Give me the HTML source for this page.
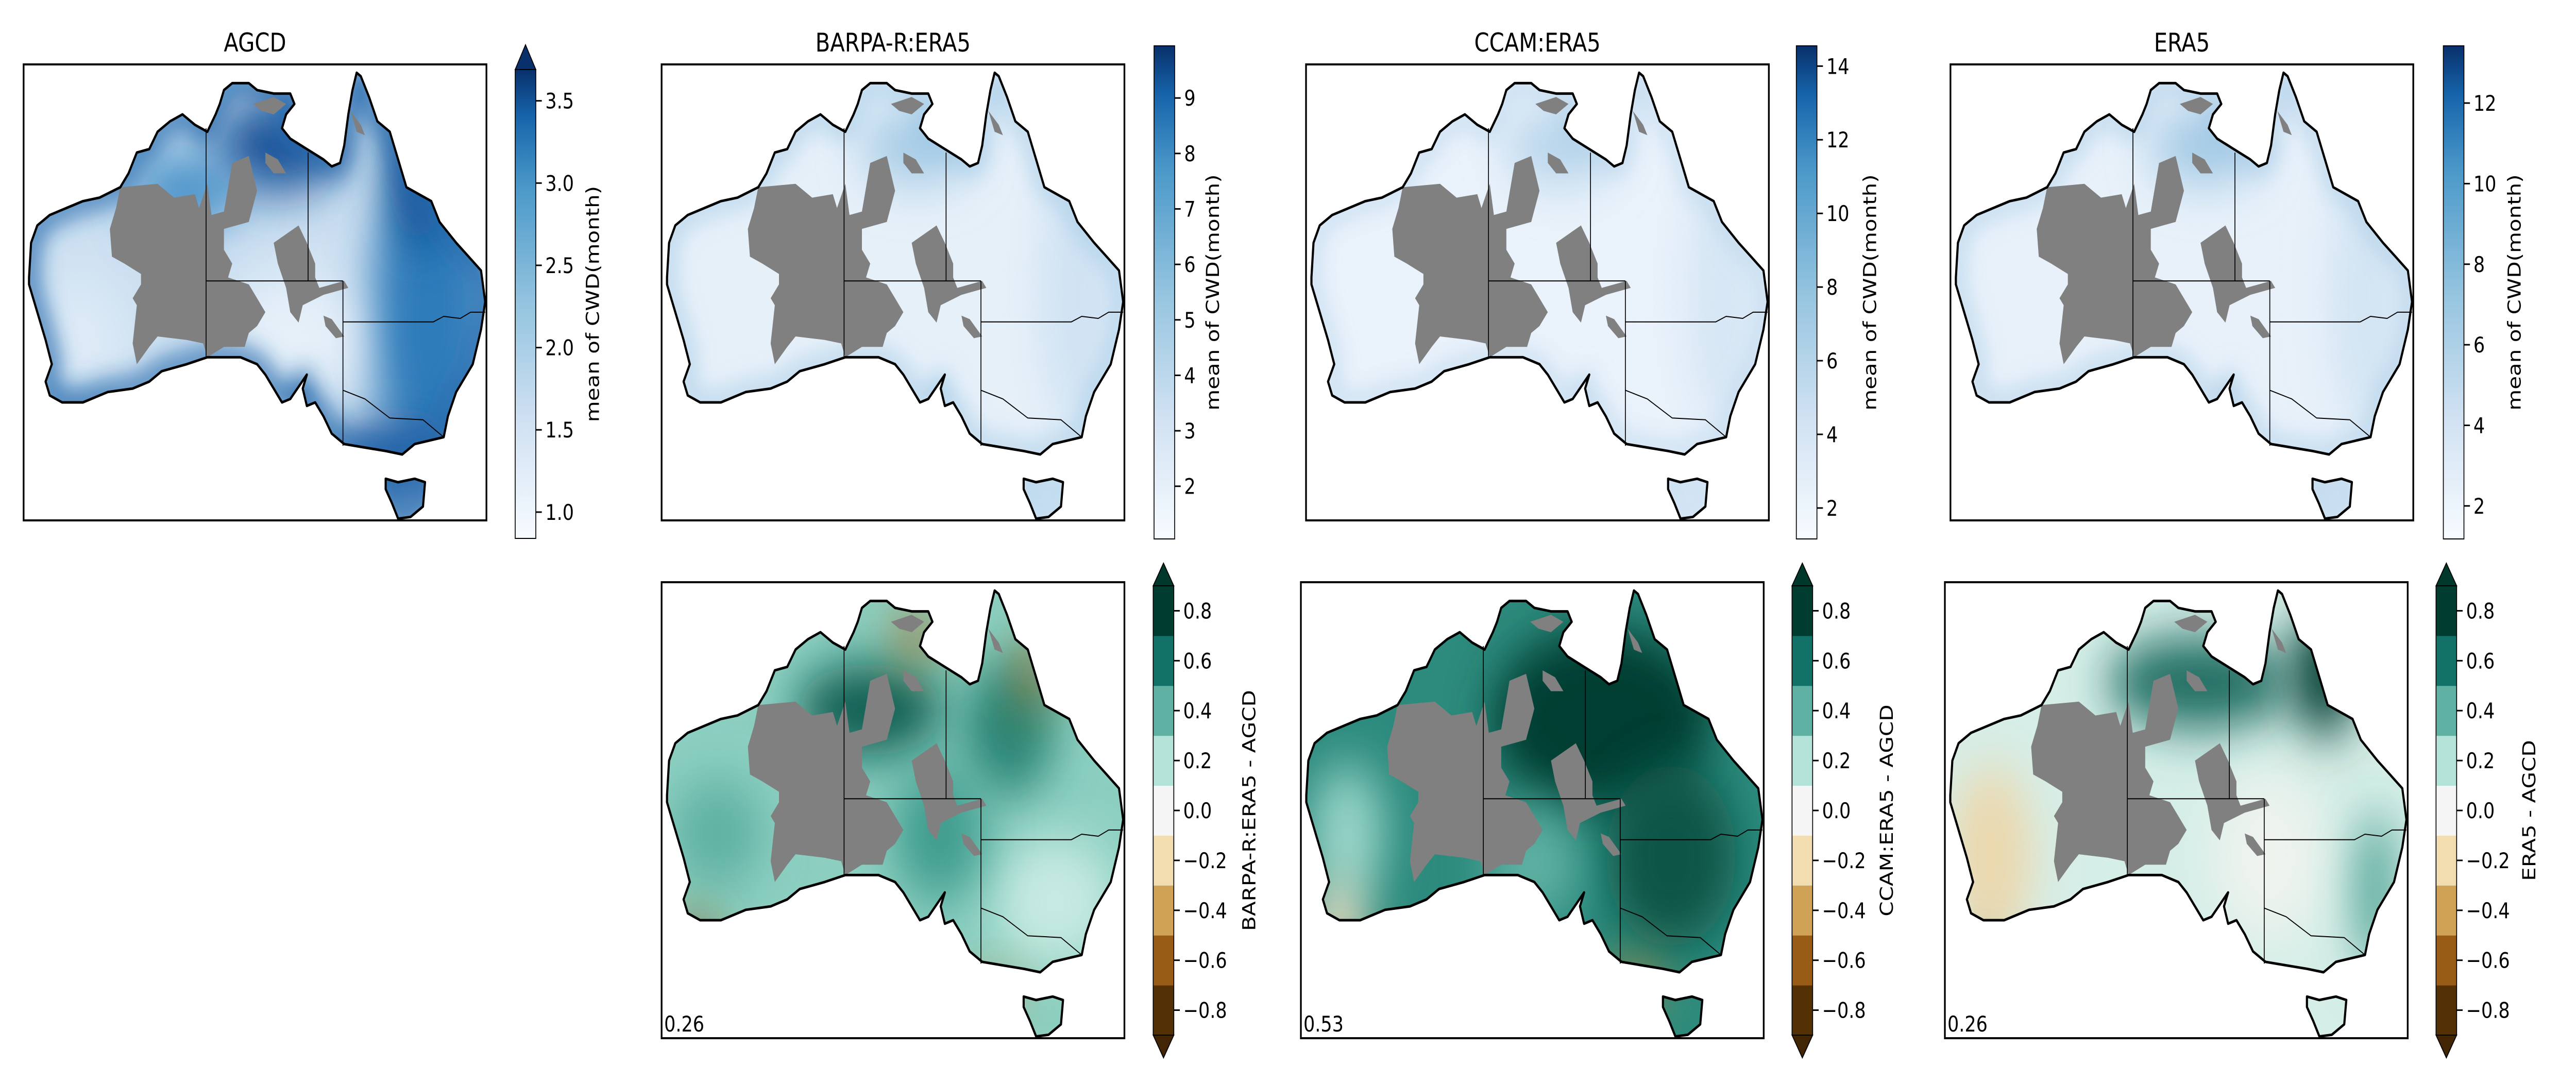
<!DOCTYPE html>
<html><head><meta charset="utf-8">
<style>
html,body{margin:0;padding:0;background:#fff;width:100%;height:100%;overflow:hidden;}
svg{display:block;font-family:"DejaVu Sans","Liberation Sans",sans-serif;overflow:hidden;width:100vw;height:100vh;}
</style></head>
<body>
<svg id="fig" xmlns="http://www.w3.org/2000/svg" viewBox="0 0 6000 2100" preserveAspectRatio="none">
<defs>
<filter id="b60" x="-150%" y="-150%" width="400%" height="400%"><feGaussianBlur stdDeviation="50"/></filter>
<filter id="b30" x="-10%" y="-10%" width="120%" height="120%"><feGaussianBlur stdDeviation="25"/></filter>
<linearGradient id="blues" x1="0" y1="1" x2="0" y2="0">
<stop offset="0" stop-color="#f7fbff"/><stop offset="0.25" stop-color="#d0e1f2"/><stop offset="0.5" stop-color="#94c4df"/><stop offset="0.75" stop-color="#4a98c9"/><stop offset="0.9" stop-color="#1764ab"/><stop offset="1" stop-color="#08306b"/>
</linearGradient>
</defs>
<g id="root"></g>
</svg>
<script>
// ---- colorbar data ----
const cb1Ticks=[1.0,1.5,2.0,2.5,3.0,3.5];
const cb1Range=[0.84,3.69];
const cb2Ticks=[2,3,4,5,6,7,8,9];
const cb2Range=[1.05,9.94];
const cb3Ticks=[2,4,6,8,10,12,14];
const cb3Range=[1.16,14.55];
const cb4Ticks=[2,4,6,8,10,12];
const cb4Range=[1.18,13.42];
const diffTicks=[-0.8,-0.6,-0.4,-0.2,0.0,0.2,0.4,0.6,0.8];
const diffLevels=[-0.9,-0.7,-0.5,-0.3,-0.1,0.1,0.3,0.5,0.7,0.9];
const diffColors=["#543005","#985c16","#cfa256","#f1ddb0","#f5f5f5","#b4e3da","#5fb1a3","#137268","#003c30"];
const titles=["AGCD","BARPA-R:ERA5","CCAM:ERA5","ERA5"];
const diffLabels=["BARPA-R:ERA5 - AGCD","CCAM:ERA5 - AGCD","ERA5 - AGCD"];
const scores=["0.26","0.53","0.26"];

const NS="http://www.w3.org/2000/svg";
const root=document.getElementById('root');
function mk(tag,attrs,parent){const e=document.createElementNS(NS,tag);for(const k in attrs)e.setAttribute(k,attrs[k]);(parent||root).appendChild(e);return e;}

const coast=[[70,800],[75,700],[90,650],[120,620],[200,580],[240,570],[290,540],[310,500],[330,440],[360,430],[380,380],[410,350],[440,330],[470,360],[500,380],[520,330],[530,300],[540,260],[560,240],[600,240],[620,260],[660,270],[700,270],[710,300],[690,330],[680,370],[700,400],[740,430],[780,460],[800,480],[820,470],[830,420],[840,330],[850,260],[860,210],[870,220],[890,280],[910,350],[940,380],[960,460],[980,540],[1040,580],[1060,640],[1100,700],[1130,740],[1160,780],[1170,870],[1160,950],[1140,1050],[1100,1130],[1080,1200],[1070,1260],[1000,1280],[970,1310],[930,1300],[880,1290],[830,1280],[800,1250],[780,1200],[760,1160],[740,1170],[730,1120],[740,1080],[700,1150],[680,1160],[660,1120],[640,1080],[620,1050],[580,1030],[500,1030],[450,1050],[390,1070],[360,1100],[320,1120],[260,1130],[200,1160],[150,1160],[120,1140],[110,1100],[125,1050],[110,980],[90,900],[70,820]];
const tas=[[930,1380],[960,1390],[1000,1380],[1025,1390],[1020,1460],[990,1490],[960,1495],[945,1450],[930,1410]];
const grey1=[[290,540],[380,530],[420,570],[470,560],[480,600],[500,530],[510,620],[540,610],[560,470],[600,450],[620,550],[600,640],[540,660],[540,720],[560,760],[550,800],[600,820],[620,860],[640,900],[620,940],[600,960],[590,1000],[540,1000],[500,1030],[490,990],[450,980],[380,970],[360,1000],[330,1050],[320,990],[330,880],[320,860],[340,820],[340,790],[300,760],[270,740],[265,660],[280,600]];
const grey2=[[660,700],[720,650],[740,700],[760,760],[760,800],[770,830],[830,810],[840,830],[780,850],[730,880],[720,930],[700,900],[690,830],[670,760]];
const grey3=[[610,300],[660,280],[690,300],[660,330],[630,320]];
const grey4=[[845,320],[870,360],[880,390],[860,380]];
const grey5=[[640,440],[670,460],[690,500],[660,500],[640,470]];
const grey6=[[780,910],[800,920],[830,970],[810,975],[785,940]];
const borders=[[[497,370],[497,1030]],[[497,810],[827,810]],[[743,440],[743,810]],[[827,810],[827,1285]],[[827,928],[1045,928],[1070,912],[1110,918],[1135,900],[1170,900]],[[827,1125],[880,1150],[940,1205],[1020,1210],[1070,1260]]];

const W=1078,H=885;
function P(pts){return pts.map((p,i)=>(i?'L':'M')+((p[0]-57)/1116*W).toFixed(1)+','+((p[1]-186)/1314*H).toFixed(1)).join('')+'Z';}
function PL(pts){return pts.map((p,i)=>(i?'L':'M')+((p[0]-57)/1116*W).toFixed(1)+','+((p[1]-186)/1314*H).toFixed(1)).join('');}
const landD=P(coast)+P(tas);
const cp=mk('clipPath',{id:'land'},document.querySelector('defs'));
mk('path',{d:landD},cp);
const cpb=mk('clipPath',{id:'box'},document.querySelector('defs'));
mk('rect',{x:0,y:0,width:W,height:H},cpb);

function U(u){return u*W;} function V(v){return v*H;}

function panel(x,y,name,style){
  const g=mk('g',{transform:`translate(${x},${y})`});
  
  
  const outer=mk('g',{'clip-path':'url(#box)'},g);
  const c=mk('g',{'clip-path':'url(#land)'},outer);
  mk('rect',{x:0,y:0,width:W,height:H,fill:style.base},c);
  style.blobs.forEach(b=>{mk('ellipse',{cx:U(b[0]),cy:V(b[1]),rx:U(b[2]),ry:V(b[3]),fill:b[4],filter:'url(#b60)'},c);});
  if(style.coast) mk('path',{d:landD,fill:'none',stroke:style.coast,'stroke-width':style.cw,filter:'url(#b30)'},c);
  [grey1,grey2,grey3,grey4,grey5,grey6].forEach(gp=>mk('path',{d:P(gp),fill:'#808080'},g));
  mk('path',{d:landD,fill:'none',stroke:'#000','stroke-width':5,'stroke-linejoin':'round'},g);
  borders.forEach(b=>mk('path',{d:PL(b),fill:'none',stroke:'#000','stroke-width':2},g));
  const fr=mk('rect',{x:0,y:0,width:W,height:H,fill:'none',stroke:'#000','stroke-width':4},g);
  
  
  return g;
}
function text(x,y,s,attrs,name){const t=mk('text',Object.assign({x:x,y:y,'font-size':42,fill:'#000'},attrs||{}));t.textContent=s;return t;}
function fmt(v,d){return (v<0?'\u2212':'')+Math.abs(v).toFixed(d);}

function contCb(x,top,bot,ticks,range,dec,label,lx,name,extendTop){
  const g=mk('g',{});
  
  
  const w=48;
  mk('rect',{x:x,y:top,width:w,height:bot-top,fill:'url(#blues)'},g);
  if(extendTop) mk('path',{d:`M${x},${top}L${x+w/2},${top-48}L${x+w},${top}Z`,fill:'#08306b',stroke:'#000','stroke-width':2},g);
  mk('rect',{x:x,y:top,width:w,height:bot-top,fill:'none',stroke:'#000','stroke-width':2},g);
  const sy=v=>bot-(v-range[0])/(range[1]-range[0])*(bot-top);
  ticks.forEach(t=>{const yy=sy(t);mk('line',{x1:x+w,x2:x+w+14,y1:yy,y2:yy,stroke:'#000','stroke-width':3},g);
    text(x+w+22,yy+15,fmt(t,dec),{},'colorbar-tick-label');});
  text(lx,(top+bot)/2,label,{'text-anchor':'middle',transform:`rotate(-90 ${lx} ${(top+bot)/2})`},'colorbar-label');
}
function diffCb(x,label,lx,name){
  const g=mk('g',{});
  
  
  const w=48,top=1137,bot=2009;
  const sy=v=>bot-(v-diffLevels[0])/(diffLevels[diffLevels.length-1]-diffLevels[0])*(bot-top);
  for(let i=0;i<diffColors.length;i++){mk('rect',{x:x,y:sy(diffLevels[i+1]),width:w,height:sy(diffLevels[i])-sy(diffLevels[i+1])+0.5,fill:diffColors[i]},g);}
  mk('path',{d:`M${x},${top}L${x+w/2},${top-44}L${x+w},${top}Z`,fill:'#00382c',stroke:'#000','stroke-width':2},g);
  mk('path',{d:`M${x},${bot}L${x+w/2},${bot+44}L${x+w},${bot}Z`,fill:'#422504',stroke:'#000','stroke-width':2},g);
  mk('rect',{x:x,y:top,width:w,height:bot-top,fill:'none',stroke:'#000','stroke-width':2},g);
  diffTicks.forEach(t=>{const yy=sy(t);mk('line',{x1:x+w,x2:x+w+14,y1:yy,y2:yy,stroke:'#000','stroke-width':3},g);
    text(x+w+22,yy+15,fmt(t,1),{},'colorbar-tick-label');});
  text(lx,(top+bot)/2,label,{'text-anchor':'middle',transform:`rotate(-90 ${lx} ${(top+bot)/2})`},'colorbar-label');
}

// top row
const topX=[55,1541,3042,4543];
const topStyles=[
 {base:'#cde0f1',blobs:[[0.88,0.55,0.13,0.33,'#2d7cba'],[0.55,0.18,0.14,0.1,'#154f96'],[0.35,0.28,0.12,0.08,'#3f8dc6'],[0.85,0.22,0.06,0.18,'#0d4a8f'],[0.12,0.62,0.1,0.15,'#deebf7'],[0.8,0.86,0.14,0.07,'#12509a'],[0.12,0.82,0.08,0.06,'#1d64aa'],[0.58,0.6,0.14,0.14,'#e6f0f9']],coast:'#2068ac',cw:36},
 {base:'#e6f0f9',blobs:[[0.55,0.18,0.12,0.08,'#a2c9e4'],[0.9,0.5,0.08,0.3,'#cfe2f3']],coast:'#8fbfe0',cw:20},
 {base:'#eaf2fb',blobs:[[0.55,0.18,0.12,0.08,'#b4d3ea'],[0.9,0.5,0.08,0.3,'#d6e6f4']],coast:'#a7cbe6',cw:18},
 {base:'#e8f1fa',blobs:[[0.55,0.18,0.12,0.08,'#9fc7e3'],[0.9,0.5,0.08,0.3,'#d2e4f3']],coast:'#9ac3e1',cw:20}
];
for(let i=0;i<4;i++){
  panel(topX[i],125,'map-'+titles[i].toLowerCase().replace(/[^a-z0-9]+/g,'-'),topStyles[i]);
  text(topX[i]+W/2,100,titles[i],{'font-size':50,'text-anchor':'middle'},'panel-title');
}
contCb(1200,135,1045,cb1Ticks,cb1Range,1,'mean of CWD(month)',1395,'colorbar-agcd',true);
contCb(2688,89,1046,cb2Ticks,cb2Range,0,'mean of CWD(month)',2839,'colorbar-barpa',false);
contCb(4184,89,1046,cb3Ticks,cb3Range,0,'mean of CWD(month)',4370,'colorbar-ccam',false);
contCb(5691,89,1046,cb4Ticks,cb4Range,0,'mean of CWD(month)',5871,'colorbar-era5',false);

// bottom row
const botX=[1541,3030,4530];
const botStyles=[
 {base:'#8ccfc1',blobs:[[0.45,0.28,0.16,0.1,'#0e5d51'],[0.75,0.32,0.1,0.15,'#2a8576'],[0.12,0.55,0.1,0.12,'#5fb1a3'],[0.85,0.7,0.13,0.14,'#c7eae2'],[0.6,0.55,0.1,0.15,'#3f9d8e'],[0.07,0.8,0.05,0.06,'#8a5a1e'],[0.55,0.12,0.05,0.05,'#a5742f'],[0.8,0.2,0.03,0.08,'#9a6a25'],[0.72,0.9,0.06,0.03,'#c49a56']],coast:null},
 {base:'#2c8b7d',blobs:[[0.65,0.3,0.24,0.2,'#003c30'],[0.8,0.6,0.14,0.2,'#0a5447'],[0.1,0.55,0.08,0.15,'#9ad6ca'],[0.08,0.75,0.06,0.1,'#f2e6cc'],[0.08,0.86,0.05,0.05,'#8a5a1e'],[0.72,0.88,0.07,0.04,'#b58540'],[0.5,0.62,0.1,0.12,'#5fb1a3']],coast:null},
 {base:'#d6eee8',blobs:[[0.55,0.22,0.2,0.1,'#1b6c60'],[0.82,0.2,0.07,0.14,'#003c30'],[0.1,0.6,0.09,0.2,'#ecd8ad'],[0.7,0.6,0.12,0.18,'#eef3ee'],[0.93,0.68,0.04,0.18,'#3f9b8c'],[0.08,0.85,0.05,0.05,'#9a6a25']],coast:null}
];
for(let i=0;i<3;i++){
  panel(botX[i],1130,'diff-map-'+(i+1),botStyles[i]);
  text(botX[i]+6,2002,scores[i],{},'correlation-score');
}
diffCb(2686,diffLabels[0],2924,'colorbar-diff-barpa');
diffCb(4174,diffLabels[1],4409,'colorbar-diff-ccam');
diffCb(5674,diffLabels[2],5905,'colorbar-diff-era5');
</script>
</body></html>
